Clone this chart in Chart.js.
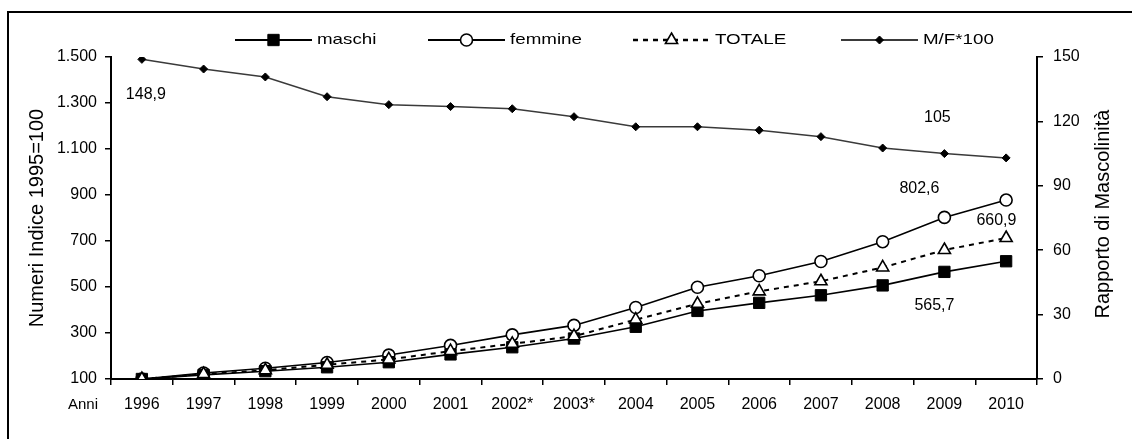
<!DOCTYPE html>
<html><head><meta charset="utf-8">
<script src="https://cdn.jsdelivr.net/npm/chart.js@4/dist/chart.umd.min.js"></script>
<style>
html,body{margin:0;padding:0;background:#fff;}
#wrap{position:relative;width:1132px;height:439px;overflow:hidden;}
#frame{position:absolute;left:7px;top:11px;width:1200px;height:500px;border-top:2px solid #000;border-left:2px solid #000;pointer-events:none;}
canvas{position:absolute;left:0;top:0;}
</style></head><body>
<div id="wrap"><canvas id="c" width="1132" height="439"></canvas><div id="frame"></div></div>
<script>
// ---- data ----
const years = ['1996','1997','1998','1999','2000','2001','2002*','2003*','2004','2005','2006','2007','2008','2009','2010'];
const maschi  = [100,118,134,151,173,207,238,276,327,396,431,464,507,565.7,612];
const femmine = [100,126,147,172,204,246,292,333,411,499,549,611,697,802.6,878];
const totale  = [100,121,138,162,185,221,253,286,358,427,481,525,585,660.9,713];
const mf      = [148.9,144.4,140.7,131.5,127.8,126.9,125.9,122.2,117.5,117.5,115.9,112.9,107.6,105,103.0];
const leftTicks  = ['100','300','500','700','900','1.100','1.300','1.500'];
const rightTicks = ['0','30','60','90','120','150'];
const seriesNames = ['maschi','femmine','TOTALE','M/F*100'];
const leftTitle = 'Numeri Indice 1995=100';
const rightTitle = 'Rapporto di Mascolinità';
const xTitle = 'Anni';

const FONT = "'Liberation Sans', Arial, sans-serif";
const fmt = v => String(v).replace('.', ',');

// labels shown on the chart: [dataset index, point index, dx, dy]
const valueLabels = [[3,0,4,35],[3,13,-7,-36],[1,13,-25,-29],[2,13,52,-29],[0,13,-10,34]];

function drawMarker(ctx, ds, x, y){
  ctx.save();
  ctx.fillStyle = ds.pointBackgroundColor;
  ctx.strokeStyle = ds.pointBorderColor;
  ctx.lineWidth = ds.pointBorderWidth;
  ctx.setLineDash([]);
  if (Chart.helpers && Chart.helpers.drawPoint) {
    Chart.helpers.drawPoint(ctx, {pointStyle: ds.pointStyle, radius: ds.pointRadius, rotation: 0, borderWidth: ds.pointBorderWidth}, x, y);
  }
  ctx.restore();
}

const legendX = [235, 428, 633, 841];
const customLegend = {
  id: 'customLegend',
  afterDraw(chart){
    const ctx = chart.ctx;
    const y = 40;
    chart.data.datasets.forEach((ds, i) => {
      const x0 = legendX[i];
      ctx.save();
      ctx.strokeStyle = ds.borderColor;
      ctx.lineWidth = i === 2 ? 2.5 : 2;
      ctx.setLineDash(ds.borderDash || []);
      ctx.beginPath(); ctx.moveTo(x0, y); ctx.lineTo(x0 + 77, y); ctx.stroke();
      ctx.restore();
      drawMarker(ctx, ds, x0 + 38.5, y);
      ctx.save();
      ctx.translate(x0 + 82, y);
      ctx.scale(1.25, 1);
      ctx.font = '15px ' + FONT;
      ctx.fillStyle = '#000';
      ctx.textBaseline = 'middle';
      ctx.textAlign = 'left';
      ctx.fillText(ds.label, 0, 0);
      ctx.restore();
    });
  }
};

const extras = {
  id: 'extras',
  afterDatasetsDraw(chart){
    const ctx = chart.ctx;
    ctx.save();
    ctx.font = '16px ' + FONT;
    ctx.fillStyle = '#000';
    ctx.textAlign = 'center';
    ctx.textBaseline = 'middle';
    valueLabels.forEach(([d, p, dx, dy]) => {
      const el = chart.getDatasetMeta(d).data[p];
      ctx.fillText(fmt(chart.data.datasets[d].data[p]), el.x + dx, el.y + dy);
    });
    // "Anni"
    ctx.font = '15px ' + FONT;
    ctx.textAlign = 'right';
    ctx.fillText(xTitle, 98, 405);
    // right title
    ctx.font = '20px ' + FONT;
    ctx.textAlign = 'center';
    ctx.translate(1103, (chart.chartArea.top + chart.chartArea.bottom) / 2 - 4);
    ctx.rotate(-Math.PI / 2);
    ctx.fillText(rightTitle, 0, 0);
    ctx.restore();
  }
};

const axisGrid = {drawOnChartArea: false, color: '#000', lineWidth: 1.5, tickLength: 6};
const tickFont = {family: FONT, size: 16};

new Chart(document.getElementById('c'), {
  type: 'line',
  data: {
    labels: years,
    datasets: [
      {label: seriesNames[0], data: maschi, yAxisID: 'y', order: 1,
       borderColor: '#000', borderWidth: 1.6, pointStyle: 'rect', pointRadius: 8,
       pointBackgroundColor: '#000', pointBorderColor: '#000', pointBorderWidth: 1},
      {label: seriesNames[1], data: femmine, yAxisID: 'y', order: 2,
       borderColor: '#000', borderWidth: 1.6, pointStyle: 'circle', pointRadius: 6,
       pointBackgroundColor: '#fff', pointBorderColor: '#000', pointBorderWidth: 1.6},
      {label: seriesNames[2], data: totale, yAxisID: 'y', order: 0,
       borderColor: '#000', borderWidth: 2, borderDash: [5, 5], pointStyle: 'triangle', pointRadius: 7,
       pointBackgroundColor: '#fff', pointBorderColor: '#000', pointBorderWidth: 1.6},
      {label: seriesNames[3], data: mf, yAxisID: 'y1', order: 3,
       borderColor: '#3a3a3a', borderWidth: 1.5, pointStyle: 'rectRot', pointRadius: 4,
       pointBackgroundColor: '#000', pointBorderColor: '#000', pointBorderWidth: 1}
    ]
  },
  options: {
    responsive: false, animation: false, devicePixelRatio: 1,
    layout: {padding: {top: 57, left: 0, right: 0, bottom: 0}},
    elements: {line: {tension: 0}},
    plugins: {legend: {display: false}, tooltip: {enabled: false}},
    scales: {
      x: {
        offset: true,
        grid: Object.assign({offset: true}, axisGrid),
        border: {color: '#000', width: 2},
        ticks: {font: tickFont, color: '#000', padding: 10, maxRotation: 0, autoSkip: false},
        afterFit: s => { s.height = 60; }
      },
      y: {
        position: 'left', min: 100, max: 1500,
        grid: axisGrid,
        border: {color: '#000', width: 2},
        ticks: {stepSize: 200, font: tickFont, color: '#000', padding: 8,
                callback: v => leftTicks[Math.round((v - 100) / 200)]},
        title: {display: true, text: leftTitle, color: '#000', font: {family: FONT, size: 20}, padding: {top: 25, bottom: 0}},
        afterFit: s => { s.width = 111; }
      },
      y1: {
        position: 'right', min: 0, max: 150,
        grid: axisGrid,
        border: {color: '#000', width: 2},
        ticks: {stepSize: 30, font: tickFont, color: '#000', padding: 10,
                callback: v => rightTicks[Math.round(v / 30)]},
        afterFit: s => { s.width = 95; }
      }
    }
  },
  plugins: [customLegend, extras]
});
</script>
</body></html>
